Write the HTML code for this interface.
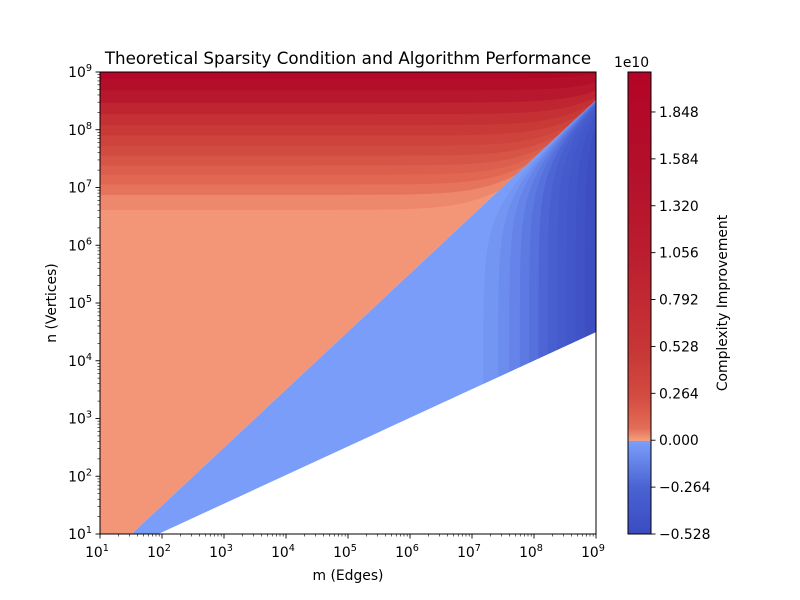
<!DOCTYPE html>
<html><head><meta charset="utf-8"><style>
body{margin:0;background:#fff}
svg{display:block;font-family:"DejaVu Sans","Liberation Sans",sans-serif}
</style></head><body>
<svg id="chart" width="800" height="600" viewBox="0 0 800 600" xmlns="http://www.w3.org/2000/svg">
<defs>
<clipPath id="plotClip"><rect x="100" y="72" width="496" height="462"/></clipPath>
<linearGradient id="cbGrad" x1="0" y1="1" x2="0" y2="0">
<stop offset="0" stop-color="#3b4cc0"/>
<stop offset="0.1" stop-color="#4a62d3"/>
<stop offset="0.201" stop-color="#7b9ff9"/>
<stop offset="0.202" stop-color="#f3a07f"/>
<stop offset="0.23" stop-color="#e36c55"/>
<stop offset="0.3" stop-color="#d24b40"/>
<stop offset="0.4" stop-color="#c73635"/>
<stop offset="0.6" stop-color="#bb1e2f"/>
<stop offset="0.8" stop-color="#b30f2b"/>
<stop offset="1" stop-color="#b40426"/>
</linearGradient>
</defs>
<text x="348" y="64" font-size="16.7" text-anchor="middle">Theoretical Sparsity Condition and Algorithm Performance</text>
<g id="field" clip-path="url(#plotClip)"></g>
<g id="axes"></g>
<rect x="628" y="72" width="23" height="462" fill="url(#cbGrad)" stroke="#000" stroke-width="1"/>
<g id="cbar"></g>
<text x="614" y="67" font-size="13.9">1e10</text>
<text transform="translate(727,303) rotate(-90)" font-size="13.9" text-anchor="middle">Complexity Improvement</text>
<text x="348" y="580" font-size="13.9" text-anchor="middle">m (Edges)</text>
<text transform="translate(56,303) rotate(-90)" font-size="13.9" text-anchor="middle">n (Vertices)</text>
</svg>
<script>
// ---- data ----
const xTickExps = [1,2,3,4,5,6,7,8,9];
const yTickExps = [1,2,3,4,5,6,7,8,9];
const cbTickValues = [-0.528,-0.264,0.000,0.264,0.528,0.792,1.056,1.320,1.584,1.848];
const cbTickLabels = ["\u22120.528","\u22120.264","0.000","0.264","0.528","0.792","1.056","1.320","1.584","1.848"];
// red contour bands: lower level (log10 n) and value (x1e10)
const redBandLogN = [6.61,6.87,7.05,7.22,7.38,7.55,7.72,7.9,8.08,8.27,8.47,8.68,8.88];
const redBandValue = [0.02,0.05,0.09,0.14,0.2,0.27,0.36,0.48,0.65,0.9,1.25,1.65,1.98];
// blue contour bands: left level (log10 m) and value (x1e10)
const blueBandLogM = [7.18,7.42,7.6,7.77,7.92,8.07,8.22,8.37,8.52,8.67,8.82];
const blueBandValue = [-0.04,-0.08,-0.12,-0.16,-0.2,-0.25,-0.3,-0.35,-0.4,-0.45,-0.5];
// region boundaries (log10 m, log10 n)
const diagonalLine = [[1.51,1.0],[9.0,8.52]];
const feasibleLine = [[1.94,1.0],[9.0,4.5]];
const baseRedValue = 0.0;
const baseBlueValue = -0.01;
// ---- scales ----
const X0=100,X1=596,Y0=534,Y1=72,VMIN=-0.528,VMAX=2.073;
const sx = lm => X0 + (lm-1)/8*(X1-X0);
const sy = ln => Y0 - (ln-1)/8*(Y0-Y1);
const cy = v => 534 - (v-VMIN)/(VMAX-VMIN)*462;
const stopsNeg=[[-0.528,[59,76,192]],[-0.264,[74,98,211]],[0,[123,159,249]]];
const stopsPos=[[0,[243,150,120]],[0.06,[227,108,85]],[0.264,[210,75,64]],[0.528,[199,54,53]],[1.056,[187,30,47]],[1.584,[179,15,43]],[2.073,[180,4,38]]];
function color(v){
  const s = v<0?stopsNeg:stopsPos;
  if(v<=s[0][0]) return rgb(s[0][1]);
  for(let i=1;i<s.length;i++){ if(v<=s[i][0]){const t=(v-s[i-1][0])/(s[i][0]-s[i-1][0]);return rgb(s[i-1][1].map((c,j)=>c+(s[i][1][j]-c)*t));}}
  return rgb(s[s.length-1][1]);
}
function rgb(a){return 'rgb('+a.map(Math.round).join(',')+')';}
const NS='http://www.w3.org/2000/svg';
const field=document.getElementById('field');
function poly(parent,pts,fill,name,clip){
  const p=document.createElementNS(NS,'polygon');
  p.setAttribute('points',pts.map(q=>q[0].toFixed(1)+','+q[1].toFixed(1)).join(' '));
  p.setAttribute('fill',fill);
  if(clip) p.setAttribute('clip-path',clip);
  
  
  parent.appendChild(p);return p;
}
function lineAt(line,lm){const[a,b]=line;return a[1]+(lm-a[0])*(b[1]-a[1])/(b[0]-a[0]);}
function lineInv(line,ln){const[a,b]=line;return a[0]+(ln-a[1])*(b[0]-a[0])/(b[1]-a[1]);}
const defs=document.querySelector('defs');
function mkClip(id,pts){const c=document.createElementNS(NS,'clipPath');c.id=id;
  const p=document.createElementNS(NS,'polygon');p.setAttribute('points',pts.map(q=>q.join(',')).join(' '));c.appendChild(p);defs.appendChild(c);}
const dA=[sx(lineInv(diagonalLine,1)),sy(1)], dB=[sx(9),sy(lineAt(diagonalLine,9))];
const fA=[sx(lineInv(feasibleLine,1)),sy(1)], fB=[sx(9),sy(lineAt(feasibleLine,9))];
const redPts=[[sx(1),sy(1)],dA,dB,[sx(9),sy(9)],[sx(1),sy(9)]];
const bluePts=[dA,fA,fB,dB];
mkClip('redClip',redPts);mkClip('blueClip',bluePts);
poly(field,redPts,color(baseRedValue),'region-improvement');
poly(field,bluePts,color(baseBlueValue),'region-no-improvement');
const kR=Math.pow(10,-0.75);
redBandLogN.forEach((L,i)=>{
  const pts=[];
  for(let lm=1;lm<=9.0001;lm+=0.05){const ln=Math.log10(Math.pow(10,L)+Math.pow(10,lm)*kR);pts.push([sx(lm),sy(Math.min(ln,9.5))]);}
  pts.push([sx(9),sy(9.5)],[sx(1),sy(9.5)]);
  poly(field,pts,color(redBandValue[i]),'red-band-'+i,'url(#redClip)');
});
blueBandLogM.forEach((M,i)=>{
  const pts=[];
  for(let ln=1;ln<=9.0001;ln+=0.05){const lm=Math.log10(Math.pow(10,M)+3*Math.pow(10,ln));pts.push([sx(Math.min(lm,9.5)),sy(ln)]);}
  pts.push([sx(9.5),sy(9)],[sx(9.5),sy(1)]);
  poly(field,pts,color(blueBandValue[i]),'blue-band-'+i,'url(#blueClip)');
});
const axes=document.getElementById('axes');
function el(tag,attrs,parent,text){const e=document.createElementNS(NS,tag);for(const k in attrs)e.setAttribute(k,attrs[k]);if(text!==undefined)e.textContent=text;parent.appendChild(e);return e;}
const frame=el('rect',{x:100,y:72,width:496,height:462,fill:'none',stroke:'#000','stroke-width':1},axes);


xTickExps.forEach(e=>{
  const x=sx(e);
  const t=el('line',{x1:x,y1:534,x2:x,y2:538.5,stroke:'#000','stroke-width':0.9},axes);
  
  
  const lb=el('text',{x:x-3,y:557,'font-size':13.9,'text-anchor':'middle'},axes,'10');
  el('tspan',{dy:-6,'font-size':9.7},lb,String(e));
  
  
  if(e<9) for(let k=2;k<10;k++){const xm=sx(e+Math.log10(k));el('line',{x1:xm,y1:534,x2:xm,y2:536.5,stroke:'#000','stroke-width':0.6},axes);}
});
yTickExps.forEach(e=>{
  const y=sy(e);
  const t=el('line',{x1:95.5,y1:y,x2:100,y2:y,stroke:'#000','stroke-width':0.9},axes);
  
  
  const lb=el('text',{x:92,y:y+5,'font-size':13.9,'text-anchor':'end'},axes,'10');
  el('tspan',{dy:-6,'font-size':9.7},lb,String(e));
  
  
  if(e<9) for(let k=2;k<10;k++){const ym=sy(e+Math.log10(k));el('line',{x1:97.5,y1:ym,x2:100,y2:ym,stroke:'#000','stroke-width':0.6},axes);}
});
const cbar=document.getElementById('cbar');
cbTickValues.forEach((v,i)=>{
  const y=cy(v);
  const t=el('line',{x1:651,y1:y,x2:655.5,y2:y,stroke:'#000','stroke-width':0.9},cbar);
  
  
  const lb=el('text',{x:659,y:y+5,'font-size':13.9},cbar,cbTickLabels[i]);
  
  
});
</script>
</body></html>
